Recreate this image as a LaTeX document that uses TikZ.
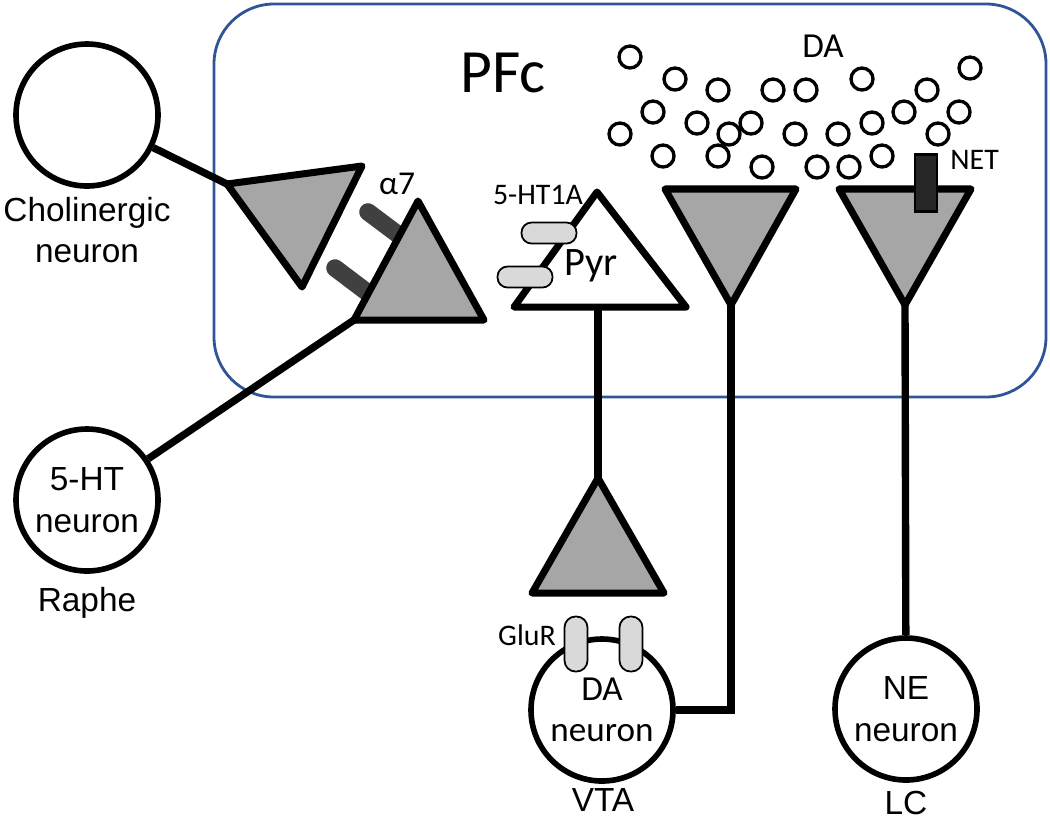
\documentclass[tikz,border=0pt]{standalone}
\usepackage{fontspec}
\setmainfont{Liberation Sans}
\newfontfamily\calibfont{Carlito}
\definecolor{pfcblue}{RGB}{47,85,151}
\definecolor{somagray}{RGB}{166,166,166}
\definecolor{receptorgray}{RGB}{217,217,217}
\definecolor{channeldark}{RGB}{64,64,64}
\tikzset{
  neuron/.style={circle, draw, line width=1.6pt, minimum size=14.2mm, inner sep=0pt, align=center, font=\fontsize{9.5}{11.8}\selectfont},
  caption/.style={align=center, font=\fontsize{9.5}{11.5}\selectfont},
  small/.style={font=\calibfont\fontsize{8.5}{9}\selectfont},
  terminal/.style={draw, fill=somagray, line width=2pt, line join=round},
  axon/.style={line width=2.1pt},
  vesicle/.style={circle, draw, line width=0.95pt, minimum size=2.2mm, inner sep=0pt},
  htreceptor/.style={draw, fill=receptorgray, line width=0.5pt, rounded corners=1mm, minimum width=5.5mm, minimum height=2.1mm, inner sep=0pt},
  glureceptor/.style={draw, fill=receptorgray, line width=0.5pt, rounded corners=1.1mm, minimum width=2.3mm, minimum height=5.5mm, inner sep=0pt},
  nachr/.style={line width=5pt, line cap=round, channeldark}
}
\begin{document}
\begin{tikzpicture}[x=0.1mm,y=-0.1mm]
\useasboundingbox (0,0) rectangle (1050,824);
% prefrontal cortex
\draw[pfcblue, line width=0.8pt, rounded corners=6mm] (214,4) rectangle (1046,397);
\node[font=\calibfont\fontsize{17.5}{20}\selectfont] (pfc) at (503,73) {PFc};
\node[font=\calibfont\fontsize{10}{11}\selectfont] (dalabel) at (823,46) {DA};
% dopamine vesicles
\foreach \x/\y [count=\i] in {630/57, 675/79, 718/90, 773/90, 806/90, 862/79, 970/68, 927/90,
  653/112, 697/123, 751/123, 729/134, 620/134, 795/134, 838/134, 872/123, 904/112, 959/112,
  938/134, 663/156, 718/156, 762/167, 817/167, 849/167, 882/156}
  \node[vesicle] (ves\i) at (\x,\y) {};
% source neurons
\node[neuron] (chol) at (87,115) {};
\node[caption] (cholname) at (87,230) {Cholinergic\\neuron};
\node[neuron] (raphe) at (87,500) {5-HT\\neuron};
\node[caption] (raphename) at (87,603) {Raphe};
\node[neuron, font=\calibfont\fontsize{10}{11.8}\selectfont] (daN) at (602,710) {DA\\neuron};
\node[caption] (vta) at (603,800) {VTA};
\node[neuron] (neN) at (906,709) {NE\\neuron};
\node[caption] (lc) at (906,803) {LC};
% alpha7 receptors
\coordinate (a7top1) at (368,212);
\coordinate (a7top2) at (408,242);
\coordinate (a7bot1) at (335,268);
\coordinate (a7bot2) at (380,302);
\draw[nachr] (a7top1) -- (a7top2);
\draw[nachr] (a7bot1) -- (a7bot2);
\node[font=\calibfont\fontsize{9.5}{10}\selectfont] (a7) at (397,184) {α7};
% terminals and cell bodies
\coordinate (ach1) at (227,184);
\coordinate (ach2) at (362,166);
\coordinate (ach3) at (302,287);
\coordinate (post1) at (418,201);
\coordinate (post2) at (354,320);
\coordinate (post3) at (484,320);
\coordinate (pyr1) at (597,192);
\coordinate (pyr2) at (514,307);
\coordinate (pyr3) at (686,307);
\coordinate (pyrbase) at (598,307);
\coordinate (glu1) at (598,478);
\coordinate (glu2) at (532,593);
\coordinate (glu3) at (664,593);
\coordinate (da1) at (665,189);
\coordinate (da2) at (796,189);
\coordinate (da3) at (731,305);
\coordinate (ne1) at (839,189);
\coordinate (ne2) at (971,189);
\coordinate (ne3) at (905,305);
% projections
\draw[axon] (chol) -- (ach1);
\draw[axon] (raphe) -- (post2);
\draw[axon] (pyrbase) -- (glu1);
\draw[axon] (daN.east) -| (da3);
\draw[axon] (neN) -- (ne3);
\draw[terminal] (ach1) -- (ach2) -- (ach3) -- cycle;
\draw[terminal] (post1) -- (post2) -- (post3) -- cycle;
\draw[terminal, fill=white] (pyr1) -- (pyr2) -- (pyr3) -- cycle;
\draw[terminal] (glu1) -- (glu2) -- (glu3) -- cycle;
\draw[terminal] (da1) -- (da2) -- (da3) -- cycle;
\draw[terminal] (ne1) -- (ne2) -- (ne3) -- cycle;
\node[font=\calibfont\fontsize{11.5}{13}\selectfont] (pyr) at (591,266) {Pyr};
% receptors and transporter
\node[htreceptor] (ht1) at (549,233) {};
\node[htreceptor] (ht2) at (525,277) {};
\node[small] (htlabel) at (538,195) {5-HT1A};
\node[glureceptor] (glur1) at (576,644) {};
\node[glureceptor] (glur2) at (631,644) {};
\node[small] (glulabel) at (527,635) {GluR};
\node[draw, fill=black!85, line width=0.6pt, minimum width=2.2mm, minimum height=5.7mm, inner sep=0pt] (net) at (926,183) {};
\node[small, anchor=west] (netlabel) at (938,160) {NET};
\end{tikzpicture}
\end{document}
